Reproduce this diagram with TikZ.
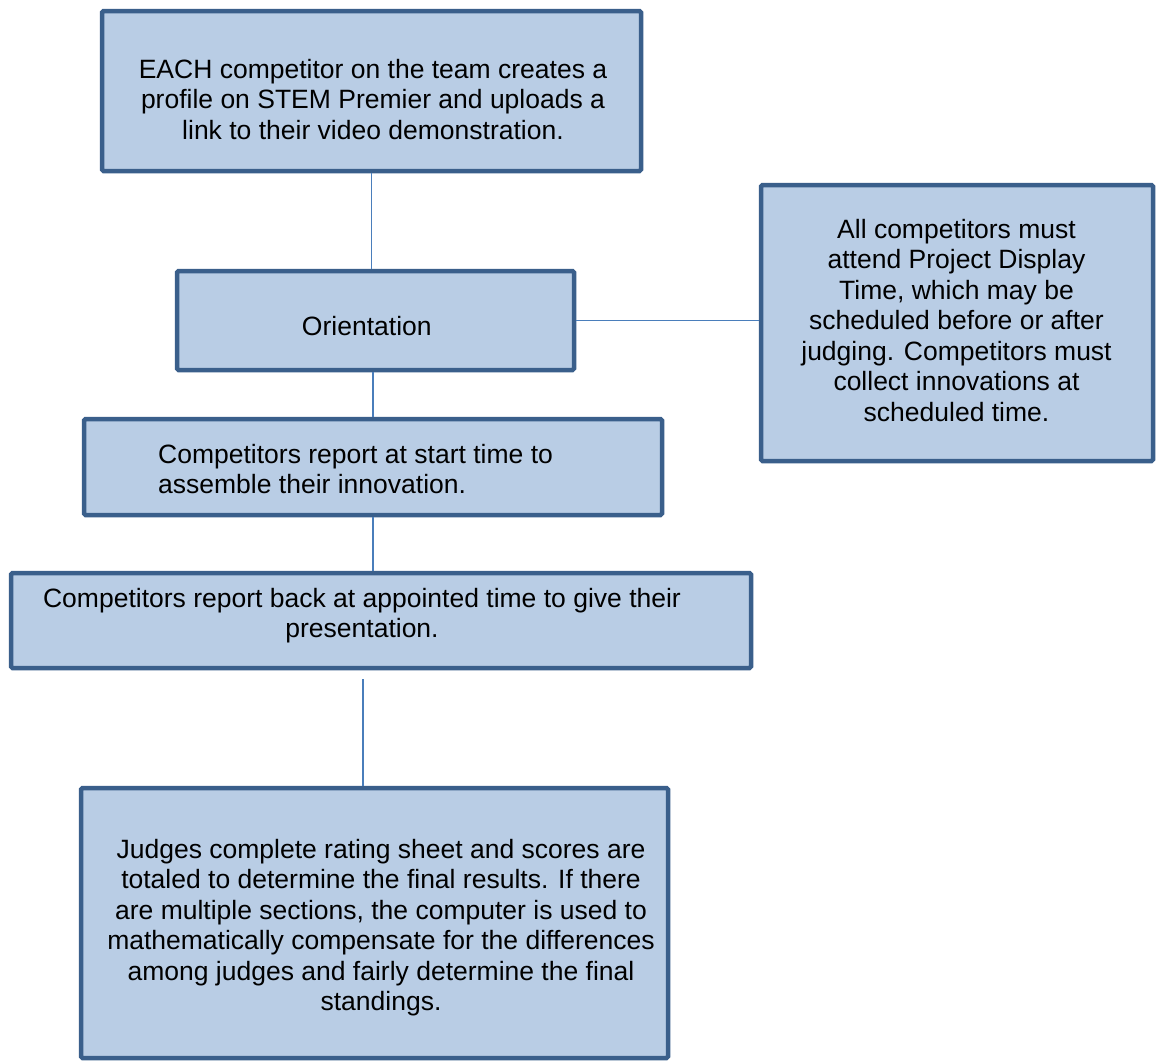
\documentclass[tikz,border=0pt]{standalone}
\usepackage{fontspec}
\setmainfont{Liberation Sans}
\definecolor{boxfill}{HTML}{B9CDE5}
\definecolor{boxline}{HTML}{3A5F8B}
\definecolor{conncol}{HTML}{4A7EBB}
\newcommand\mytopstrut{\rule{0pt}{22pt}}
\begin{document}
\begin{tikzpicture}[x=1pt,y=-1pt,
  box/.style={draw=boxline,fill=boxfill,line width=4.5pt,rectangle,inner sep=0pt,rounded corners=1.5pt},
  txt/.style={inner sep=0pt,align=center,anchor=north,font=\fontsize{26.5}{30.5}\selectfont},
  conn/.style={draw=conncol,line width=1.8pt}]
\useasboundingbox[fill=white] (0,0) rectangle (1156,1060);
% boxes
\node[box,minimum width=539pt,minimum height=160pt] (b1) at (371.5,91) {};
\node[box,minimum width=397pt,minimum height=99pt] (b2) at (375.5,320.5) {};
\node[box,minimum width=392pt,minimum height=276pt] (b3) at (957,323) {};
\node[box,minimum width=578pt,minimum height=96pt] (b4) at (373,467) {};
\node[box,minimum width=740pt,minimum height=95pt] (b5) at (381,620.5) {};
\node[box,minimum width=587pt,minimum height=270pt] (b6) at (374.5,923) {};
% texts (anchor north, first baseline = y + 22)
\node[txt] (t1) at (373,56) {\mytopstrut EACH competitor on the team creates a\\profile on STEM Premier and uploads a\\link to their video demonstration.};
\node[txt] (t2) at (366.8,313) {\mytopstrut Orientation};
\node[txt] (t3) at (956.5,216) {\mytopstrut All competitors must\\attend Project Display\\Time, which may be\\scheduled before or after\\judging. Competitors must\\collect innovations at\\scheduled time.};
\node[txt,align=left,anchor=north west] (t4) at (158,441) {\mytopstrut Competitors report at start time to\\assemble their innovation.};
\node[txt] (t5) at (362,585) {\mytopstrut Competitors report back at appointed time to give their\\presentation.};
\node[txt] (t6) at (381,836) {\mytopstrut Judges complete rating sheet and scores are\\totaled to determine the final results. If there\\are multiple sections, the computer is used to\\mathematically compensate for the differences\\among judges and fairly determine the final\\standings.};
% connectors
\draw[conn] (b1.south) -- (b1.south |- b2.north);
\draw[conn] (b2.east) -- (b2.east -| b3.west);
\draw[conn] (b4.north) -- (b4.north |- b2.south);
\draw[conn] (b4.south) -- (b4.south |- b5.north);
\coordinate (c5) at (363,679);
\draw[conn] (c5) -- (c5 |- b6.north);
\end{tikzpicture}
\end{document}
